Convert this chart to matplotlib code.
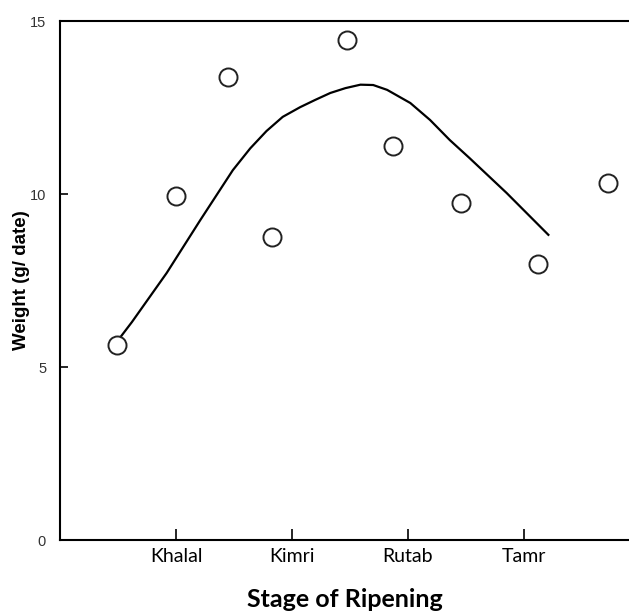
import matplotlib.pyplot as plt

# stages on the x axis (categorical positions 1..4)
stages = ["Khalal", "Kimri", "Rutab", "Tamr"]
stage_pos = [1, 2, 3, 4]

# measured weights (open circles)
obs_x = [0.49, 1.00, 1.45, 1.83, 2.47, 2.87, 3.46, 4.12, 4.72]
obs_y = [5.65, 9.93, 13.38, 8.75, 14.45, 11.38, 9.73, 7.99, 10.31]

# fitted trend curve
fit_x = [0.47, 0.62, 0.92, 1.21, 1.49, 1.64, 1.78, 1.92, 2.07, 2.20, 2.33, 2.46, 2.59, 2.70,
         2.82, 3.02, 3.19, 3.36, 3.53, 3.85, 4.21]
fit_y = [5.64, 6.30, 7.72, 9.25, 10.69, 11.32, 11.82, 12.23, 12.51, 12.72, 12.92, 13.06, 13.16, 13.15,
         13.01, 12.63, 12.14, 11.56, 11.04, 10.03, 8.82]

fig = plt.figure(figsize=(6.29, 6.11), dpi=100)
ax = fig.add_axes([0.0954, 0.1162, 0.9046, 0.8494])

ax.plot(fit_x, fit_y, color="black", lw=1.6, zorder=2)
ax.plot(obs_x, obs_y, "o", ms=13, mfc="white", mec="#222222", mew=1.4, zorder=3)

ax.set_xlim(0, 4.905)
ax.set_ylim(0, 15)
ax.set_yticks([0, 5, 10, 15])
ax.set_xticks(stage_pos)
ax.set_xticklabels(stages, fontfamily="Lato", fontsize=14)
for t in ax.get_yticklabels():
    t.set_fontfamily("Liberation Sans")
    t.set_fontsize(10.5)
    t.set_color("#333333")

ax.tick_params(axis="y", direction="in", length=6, width=1.2, pad=10)
ax.tick_params(axis="x", direction="in", length=8, width=1.2, pad=6)

ax.spines["right"].set_visible(False)
for s in ["left", "top", "bottom"]:
    ax.spines[s].set_linewidth(1.5)

ax.set_ylabel("Weight (g/ date)", fontfamily="Liberation Sans", fontweight="bold", fontsize=13.5, labelpad=0)
ax.set_xlabel("Stage of Ripening", fontfamily="Lato", fontweight="bold", fontsize=18, labelpad=16)

plt.savefig("out.png", dpi=100)
